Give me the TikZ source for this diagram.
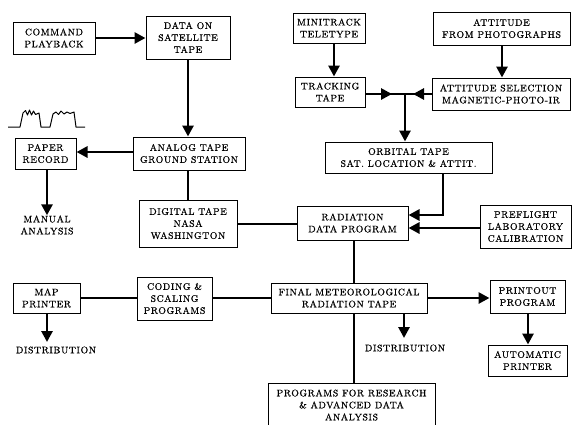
\documentclass[tikz,border=0pt]{standalone}
\usepackage{fontspec}
\setmainfont{Latin Modern Roman}[LetterSpace=6,FakeBold=0.7]
\usetikzlibrary{arrows.meta}
\tikzset{
  box/.style={draw, line width=1pt, inner sep=0pt, align=center, font=\fontsize{9.5}{12}\selectfont},
  txt/.style={inner sep=0pt, align=center, font=\fontsize{9.5}{12}\selectfont},
  arr/.style={line width=2.8pt, -{Triangle[length=11pt,width=11pt]}},
  conn/.style={line width=2.8pt},
}
\begin{document}
\begin{tikzpicture}[x=1pt,y=-1pt]
\clip (0,0) rectangle (573,424);
\fill[white] (0,0) rectangle (573,424);
% boxes
\node[box, minimum width=82pt, minimum height=32pt] (cmd) at (54,38) {COMMAND\\PLAYBACK};
\node[box, minimum width=84pt, minimum height=43pt] (dat) at (188,37.5) {DATA ON\\SATELLITE\\TAPE};
\node[box, minimum width=72pt, minimum height=30pt] (mini) at (329,28) {MINITRACK\\TELETYPE};
\node[box, minimum width=137pt, minimum height=33pt] (atti) at (501.5,28.5) {ATTITUDE\\FROM PHOTOGRAPHS};
\node[box, minimum width=70pt, minimum height=30pt] (track) at (330,92) {TRACKING\\TAPE};
\node[box, minimum width=138pt, minimum height=32pt] (attsel) at (501,94) {ATTITUDE SELECTION\\MAGNETIC-PHOTO-IR};
\node[box, minimum width=61pt, minimum height=31pt] (paper) at (45.5,153.5) {PAPER\\RECORD};
\node[box, minimum width=112pt, minimum height=33pt] (analog) at (189,153.5) {ANALOG TAPE\\GROUND STATION};
\node[box, minimum width=167pt, minimum height=31pt] (orb) at (408.5,157.5) {ORBITAL TAPE\\SAT. LOCATION \& ATTIT.};
\node[box, minimum width=98pt, minimum height=47pt] (dig) at (188,223.5) {DIGITAL TAPE\\NASA\\WASHINGTON};
\node[box, minimum width=111pt, minimum height=34pt] (rad) at (352.5,223) {RADIATION\\DATA PROGRAM};
\node[box, minimum width=91pt, minimum height=43pt] (pre) at (525.5,226.5) {PREFLIGHT\\LABORATORY\\CALIBRATION};
\node[box, minimum width=67pt, minimum height=30pt] (map) at (46.5,298) {MAP\\PRINTER};
\node[box, minimum width=75pt, minimum height=43pt] (cod) at (174.5,298.5) {CODING \&\\SCALING\\PROGRAMS};
\node[box, minimum width=156pt, minimum height=30pt] (fin) at (349,298) {FINAL METEOROLOGICAL\\RADIATION TAPE};
\node[box, minimum width=75pt, minimum height=33pt] (pout) at (527.5,296.5) {PRINTOUT\\PROGRAM};
\node[box, minimum width=79pt, minimum height=31pt] (auto) at (527.5,360.5) {AUTOMATIC\\PRINTER};
\node[box, minimum width=167pt, minimum height=44pt] (prog) at (351.5,405) {PROGRAMS FOR RESEARCH\\\& ADVANCED DATA\\ANALYSIS};
% free texts
\node[txt] (man) at (47,225) {MANUAL\\ANALYSIS};
\node[txt] (dist1) at (56,350) {DISTRIBUTION};
\node[txt] (dist2) at (405,348) {DISTRIBUTION};
% coordinates
\coordinate (j) at (405,94);
\coordinate (ja) at (392,94);
\coordinate (jb) at (413,94);
\coordinate (ob) at (443,215);
\coordinate (d1) at (47,342);
\coordinate (d2) at (404,338);
% connectors
\draw[arr] (cmd.east) -- (dat.west |- cmd.east);
\draw[arr] (dat.south) -- (analog.north -| dat.south);
\draw[arr] (analog.west |- 0,152) -- (paper.east |- 0,152);
\draw[arr] (paper.south -| 47,0) -- (man.north -| 47,0);
\draw[conn] (analog.south -| 188,0) -- (dig.north -| 188,0);
\draw[conn] (dig.east |- 0,224) -- (rad.west |- 0,224);
\draw[arr] (mini.south -| 334,0) -- (track.north -| 334,0);
\draw[arr] (atti.south -| 502,0) -- (attsel.north -| 502,0);
\draw[conn] (track.east |- j) -- (attsel.west |- j);
\draw[arr] (track.east |- j) -- (ja);
\draw[arr] (attsel.west |- j) -- (jb);
\draw[arr] (j) -- (orb.north -| j);
\draw[arr] (orb.south -| ob) -- (ob) -- (rad.east |- ob);
\draw[arr] (pre.west |- 0,228) -- (rad.east |- 0,228);
\draw[conn] (rad.south -| 354,0) -- (fin.north -| 354,0);
\draw[conn] (map.east |- 0,298) -- (cod.west |- 0,298);
\draw[conn] (cod.east |- 0,298) -- (fin.west |- 0,298);
\draw[arr] (map.south -| d1) -- (d1);
\draw[arr] (fin.east |- 0,298) -- (pout.west |- 0,298);
\draw[arr] (fin.south -| d2) -- (d2);
\draw[conn] (fin.south -| 354,0) -- (prog.north -| 354,0);
\draw[arr] (pout.south -| 528,0) -- (auto.north -| 528,0);
% waveform
\draw[line width=1pt, line join=round] (8,127) -- (20,127) -- (23,113) -- (25.5,110.5) -- (27.5,115) -- (29.5,110) -- (31.5,115) -- (33.5,111) -- (35.5,114.5) -- (39,113) -- (41,127) -- (50,127) -- (53,114) -- (56,112) -- (58.5,114.5) -- (61,111) -- (64,114) -- (67,112) -- (70,113.5) -- (74,112) -- (76,127) -- (85,127);
\end{tikzpicture}
\end{document}
